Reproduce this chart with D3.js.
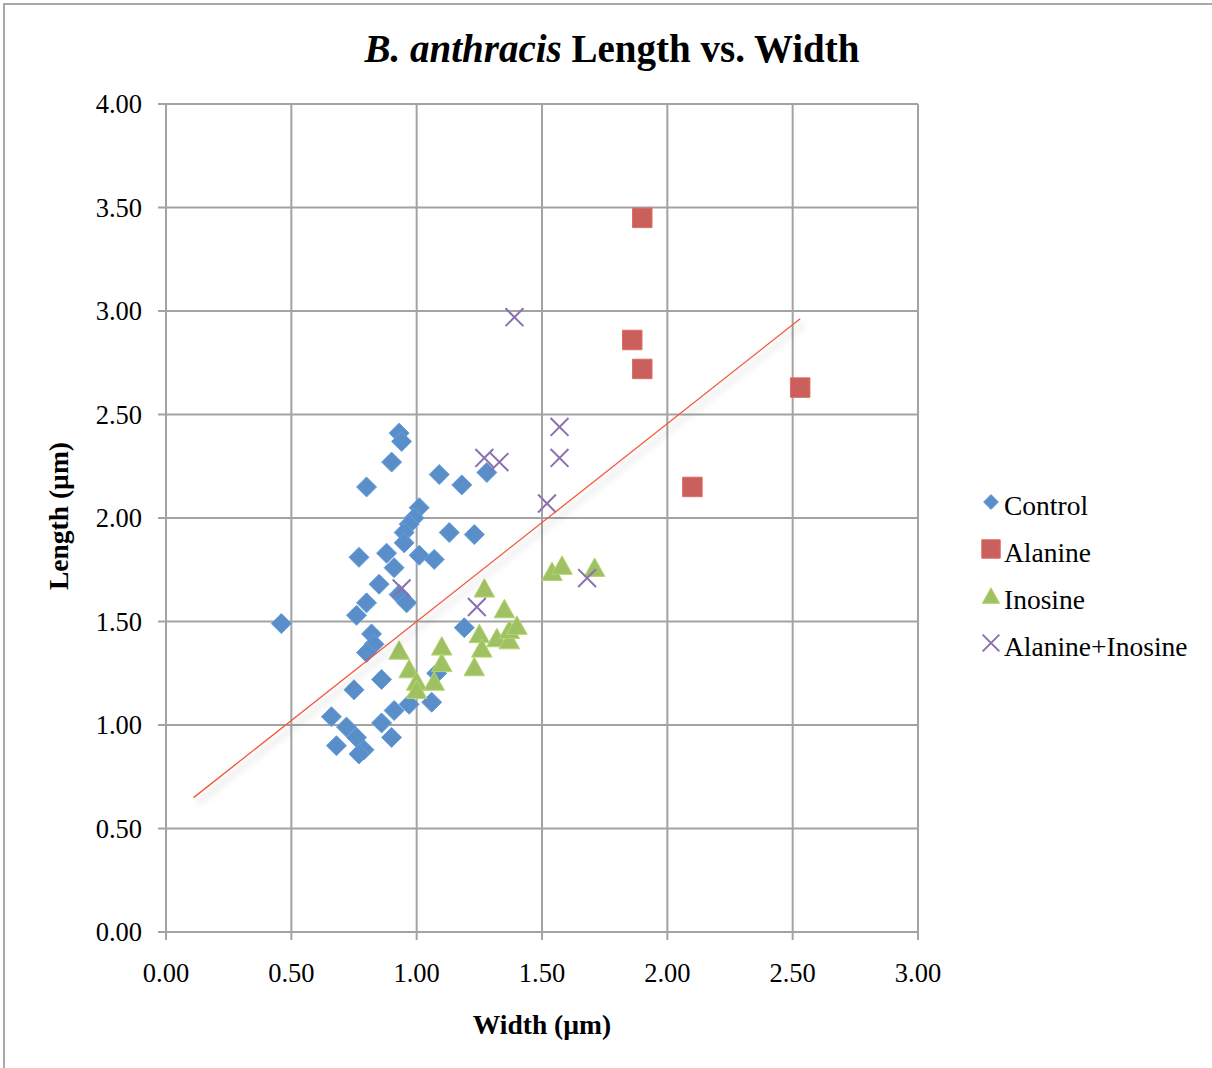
<!DOCTYPE html>
<html>
<head>
<meta charset="utf-8">
<script src="https://cdn.jsdelivr.net/npm/d3@7"></script>
<style>
  html, body { margin: 0; padding: 0; background: #fff; }
  svg { display: block; }
  text { font-family: "Liberation Serif", "DejaVu Serif", serif; fill: #000; }
</style>
</head>
<body>
<svg id="chart" width="1212" height="1068"></svg>
<script>
// Cell measurements (µm): width, length for each treatment group
const controlWidth  = [0.46,0.93,0.94,0.90,0.80,1.09,1.18,1.28,1.01,0.99,0.97,0.95,1.13,1.23,0.95,0.77,0.88,1.01,1.07,0.91,0.85,0.93,0.96,0.80,0.76,1.19,0.82,0.83,0.80,0.86,0.75,0.66,0.72,0.76,0.68,0.79,0.77,0.86,0.91,0.90,0.97,1.06,1.08];
const controlLength = [1.49,2.41,2.37,2.27,2.15,2.21,2.16,2.22,2.05,2.00,1.97,1.93,1.93,1.92,1.88,1.81,1.83,1.82,1.80,1.76,1.68,1.63,1.59,1.59,1.53,1.47,1.44,1.39,1.35,1.22,1.17,1.04,0.99,0.94,0.90,0.88,0.86,1.01,1.07,0.94,1.10,1.11,1.25];

const alanineWidth  = [1.90,1.86,1.90,2.53,2.10];
const alanineLength = [3.45,2.86,2.72,2.63,2.15];

const inosineWidth  = [0.93,0.97,1.00,1.00,1.07,1.10,1.10,1.23,1.25,1.26,1.27,1.32,1.35,1.37,1.37,1.40,1.54,1.58,1.71];
const inosineLength = [1.36,1.27,1.21,1.17,1.21,1.38,1.30,1.28,1.44,1.37,1.66,1.42,1.56,1.41,1.46,1.48,1.74,1.77,1.76];

const alaInoWidth  = [1.39,1.57,1.57,1.27,1.33,1.52,0.94,1.24,1.68];
const alaInoLength = [2.97,2.44,2.29,2.29,2.27,2.07,1.66,1.57,1.71];

const seriesNames  = ["Control","Alanine","Inosine","Alanine+Inosine"];
const seriesColors = ["#5a8ec8","#c9605b","#a0c064","#8a70b0"];

// Linear trend over all cells: x range, slope, intercept
const trendRange = [0.11, 2.53];
const trendFit   = [0.956, 0.544];

const xTicks = [0,0.5,1,1.5,2,2.5,3];
const yTicks = [0,0.5,1,1.5,2,2.5,3,3.5,4];

const svg = d3.select("#chart");
const x = d3.scaleLinear().domain([0,3]).range([166,918]);
const y = d3.scaleLinear().domain([0,4]).range([932,104]);
const fmt = d3.format(".2f");
const grid = "#a3a3a3";

// outer chart frame
svg.append("path").attr("d","M4,1068V4H1212").attr("fill","none").attr("stroke","#a8a8a8").attr("stroke-width",2);

const defs = svg.append("defs");
const f = defs.append("filter").attr("id","lineShadow").attr("x","-10%").attr("y","-10%").attr("width","130%").attr("height","130%");
f.append("feDropShadow").attr("dx",4).attr("dy",5).attr("stdDeviation",3.5).attr("flood-color","#000").attr("flood-opacity",0.28);

// gridlines
svg.append("g").selectAll("line").data(xTicks).join("line")
  .attr("x1",d=>x(d)).attr("x2",d=>x(d)).attr("y1",y(4)).attr("y2",y(0)+8)
  .attr("stroke",grid).attr("stroke-width",2);
svg.append("g").selectAll("line").data(yTicks).join("line")
  .attr("x1",x(0)-8).attr("x2",x(3)).attr("y1",d=>y(d)).attr("y2",d=>y(d))
  .attr("stroke",grid).attr("stroke-width",2);

// tick labels
svg.append("g").selectAll("text").data(yTicks).join("text")
  .attr("x",142).attr("y",d=>y(d)).attr("dy","0.35em")
  .attr("text-anchor","end").style("font-size","26.5px").text(fmt);
svg.append("g").selectAll("text").data(xTicks).join("text")
  .attr("x",d=>x(d)).attr("y",982)
  .attr("text-anchor","middle").style("font-size","26.5px").text(fmt);

// axis titles
svg.append("text").attr("x",542).attr("y",1034).attr("text-anchor","middle")
  .style("font-size","27.5px").style("font-weight","bold").text("Width (µm)");
svg.append("text").attr("transform","translate(68,516) rotate(-90)").attr("text-anchor","middle")
  .style("font-size","27.5px").style("font-weight","bold").text("Length (µm)");

// title
const title = svg.append("text").attr("x",612).attr("y",62).attr("text-anchor","middle")
  .style("font-size","39px").style("font-weight","bold");
title.append("tspan").style("font-style","italic").text("B. anthracis");
title.append("tspan").text(" Length vs. Width");

// marker shapes
const diamond = { draw(c, s) { const r = Math.sqrt(s)/2; c.moveTo(0,-r); c.lineTo(r,0); c.lineTo(0,r); c.lineTo(-r,0); c.closePath(); } };
const square  = { draw(c, s) { const r = Math.sqrt(s)/2; c.rect(-r,-r,2*r,2*r); } };
const tri     = { draw(c, s) { const r = Math.sqrt(s)/2; c.moveTo(0,-r*0.95); c.lineTo(r,r*0.85); c.lineTo(-r,r*0.85); c.closePath(); } };
const cross   = { draw(c, s) { const r = Math.sqrt(s)/2; c.moveTo(-r,-r); c.lineTo(r,r); c.moveTo(r,-r); c.lineTo(-r,r); } };
const shapes = [
  {type: diamond, size: 400, fill: true},
  {type: square,  size: 380, fill: true},
  {type: tri,     size: 420, fill: true},
  {type: cross,   size: 320, fill: false}
];

const series = [
  d3.zip(controlWidth, controlLength),
  d3.zip(alanineWidth, alanineLength),
  d3.zip(inosineWidth, inosineLength),
  d3.zip(alaInoWidth, alaInoLength)
];

function drawMarker(sel, i) {
  const s = shapes[i];
  sel.attr("d", d3.symbol().type(s.type).size(s.size)());
  if (s.fill) sel.attr("fill", seriesColors[i]).attr("stroke", d3.color(seriesColors[i]).brighter(0.3)).attr("stroke-width",1);
  else sel.attr("fill","none").attr("stroke", seriesColors[i]).attr("stroke-width",2);
}

series.forEach((pts, i) => {
  svg.append("g").selectAll("path").data(pts).join("path")
    .attr("transform", d => `translate(${x(d[0])},${y(d[1])})`)
    .call(drawMarker, i);
});

// trend line
svg.append("line")
  .attr("x1", x(trendRange[0])).attr("y1", y(trendFit[0]*trendRange[0]+trendFit[1]))
  .attr("x2", x(trendRange[1])).attr("y2", y(trendFit[0]*trendRange[1]+trendFit[1]))
  .attr("stroke","#f2583a").attr("stroke-width",1.3).attr("filter","url(#lineShadow)");

// legend
const legend = svg.append("g");
seriesNames.forEach((name, i) => {
  const yy = 505 + i*47;
  const sz = [220, 340, 300, 280][i];
  legend.append("path").attr("transform",`translate(991,${yy-3})`)
    .call(sel => { drawMarker(sel, i); sel.attr("d", d3.symbol().type(shapes[i].type).size(sz)()); });
  legend.append("text").attr("x",1004).attr("y",yy).attr("dy","0.35em")
    .style("font-size","27.5px").text(name);
});
</script>
</body>
</html>
